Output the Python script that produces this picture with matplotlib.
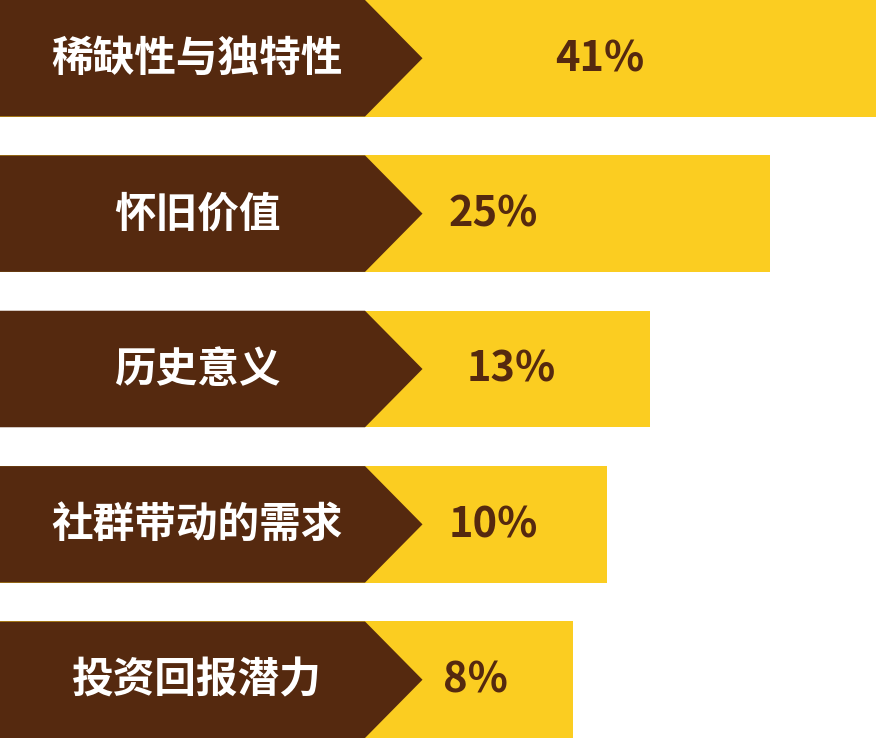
import numpy as np
import matplotlib
matplotlib.use('Agg')
import matplotlib.pyplot as plt
from matplotlib.patches import Polygon
import matplotlib.transforms as mtransforms

plt.rcParams['font.family'] = ['Noto Sans CJK SC', 'DejaVu Sans']

# data
categories = ['稀缺性与独特性', '怀旧价值', '历史意义', '社群带动的需求', '投资回报潜力']
values = [41, 25, 13, 10, 8]
value_labels = ['41%', '25%', '13%', '10%', '8%']

# style
brown = '#55290f'
yellow = '#fbcd21'
bar_h = 0.75
gamma = 0.26  # bar lengths in the source follow a compressed (power) scale
arrow_body = 365 / 876
arrow_tip = 422.5 / 876
cat_x = 197 / 876
pct_x = [600 / 876, 493 / 876, 511.5 / 876, 493 / 876, 475.5 / 876]

fig = plt.figure(figsize=(8.76, 7.38), dpi=100)
ax = fig.add_axes([0, 0, 1, 1])
ax.set_xscale('function', functions=(lambda x: np.power(np.clip(x, 0, None), gamma),
                                     lambda x: np.power(np.clip(x, 0, None), 1 / gamma)))

y = np.arange(len(values))
ax.barh(y, values, height=bar_h, color=yellow, edgecolor='none')
ax.set_xlim(0, max(values))
ax.set_ylim(len(values) - 1 + bar_h / 2, -bar_h / 2)
ax.axis('off')

trans = mtransforms.blended_transform_factory(ax.transAxes, ax.transData)
txt_trans = trans + mtransforms.ScaledTranslation(0, -1 / 100, fig.dpi_scale_trans)
for i, (cat, lab) in enumerate(zip(categories, value_labels)):
    top = i - bar_h / 2
    bot = i + bar_h / 2
    pts = [(0, top), (arrow_body, top), (arrow_tip, i), (arrow_body, bot), (0, bot)]
    ax.add_patch(Polygon(pts, closed=True, facecolor=brown, edgecolor='none', transform=trans))
    ax.text(cat_x, i, cat, transform=txt_trans, ha='center', va='center',
            color='white', fontsize=30, fontweight='bold')
    ax.text(pct_x[i], i, lab, transform=txt_trans, ha='center', va='center',
            color=brown, fontsize=30, fontweight='bold')

fig.savefig('out.png', dpi=100)
